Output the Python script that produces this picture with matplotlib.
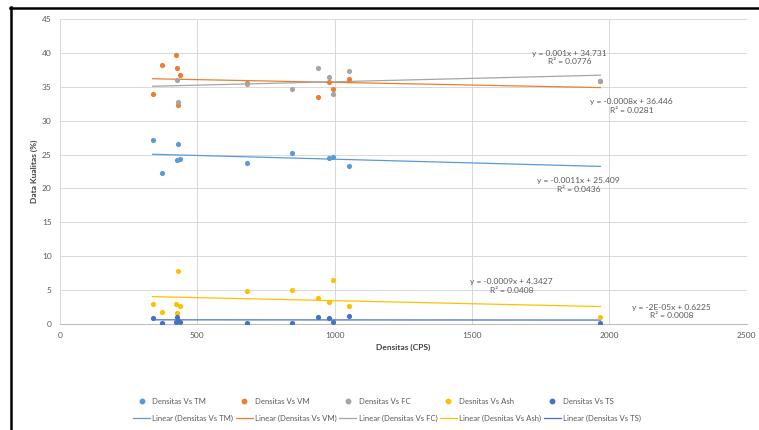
import matplotlib.pyplot as plt
from matplotlib.lines import Line2D
import numpy as np

plt.rcParams['font.family'] = ['Lato', 'DejaVu Sans']

# Densitas (CPS) tiap sampel
densitas = [337, 373, 422, 427, 430, 437, 679, 846, 938, 978, 995, 1052, 1967]

nan = np.nan
tm = [27.2, 22.2, nan, 24.2, 26.6, 24.4, 23.8, 25.25, nan, 24.5, 24.65, 23.3, nan]
vm = [33.9, 38.2, 39.75, 37.7, 32.35, 36.7, 35.6, nan, 33.5, 35.7, 34.7, 36.2, 35.8]
fc = [nan, nan, nan, 36.0, 32.8, nan, 35.45, 34.7, 37.7, 36.4, 33.9, 37.3, 35.9]
ash = [2.9, 1.8, 2.9, 1.65, 7.85, 2.65, 4.85, 5.0, 3.8, 3.2, 6.45, 2.65, 1.0]
ts = [0.95, 0.2, 0.3, 1.1, 0.5, 0.3, 0.2, 0.2, 1.0, 0.85, 0.35, 1.2, 0.2]

# koefisien trendline (dari label Excel)
slope = [-0.0011, -0.0008, 0.001, -0.0009, -2e-05]
intercept = [25.409, 36.446, 34.731, 4.3427, 0.6225]
r2 = ['0.0436', '0.0281', '0.0776', '0.0408', '0.0008']
eq = ['y = -0.0011x + 25.409', 'y = -0.0008x + 36.446', 'y = 0.001x + 34.731',
      'y = -0.0009x + 4.3427', 'y = -2E-05x + 0.6225']

nama = ['Densitas Vs TM', 'Densitas Vs VM', 'Densitas Vs FC', 'Desnitas Vs Ash', 'Densitas Vs TS']
warna = ['#5B9BD5', '#ED7D31', '#A5A5A5', '#FFC000', '#4472C4']
# posisi label persamaan (koordinat data)
pos_label = [(1887, 20.5), (2080, 32.1), (1855, 39.3), (1644, 5.55), (2225, 1.85)]

fig = plt.figure(figsize=(7.59, 4.30), dpi=100)
ax = fig.add_axes([0.079, 0.2465, 0.905, 0.7095])

seri = [tm, vm, fc, ash, ts]
x = np.array(densitas)
handles = []
for i, y in enumerate(seri):
    ax.scatter(x, y, s=14, color=warna[i], zorder=3, linewidths=0)
    xl = np.array([min(densitas), max(densitas)])
    ax.plot(xl, slope[i] * xl + intercept[i], color=warna[i], lw=0.9, zorder=2)
    handles.append(Line2D([], [], marker='o', ls='none', color=warna[i], markersize=3.2))
    handles.append(Line2D([], [], color=warna[i], lw=0.9))
    ax.text(pos_label[i][0], pos_label[i][1], eq[i] + '\nR² = ' + r2[i],
            ha='center', va='center', fontsize=6, color='#595959', linespacing=1.3)

ax.set_xlim(0, 2500)
ax.set_ylim(0, 45)
ax.set_xticks(np.arange(0, 2501, 500))
ax.set_yticks(np.arange(0, 46, 5))
ax.grid(True, color='#D9D9D9', lw=0.7)
ax.set_axisbelow(True)
for s in ['top', 'right', 'left']:
    ax.spines[s].set_visible(False)
ax.spines['bottom'].set_color('#BFBFBF')
ax.tick_params(length=0, labelsize=6, labelcolor='#595959', pad=6)
ax.set_xlabel('Densitas (CPS)', fontsize=6, fontweight='bold', color='#404040', labelpad=3)
ax.set_ylabel('Data Kualitas (%)', fontsize=6, fontweight='bold', color='#404040', labelpad=3)

labels = []
for n in nama:
    labels.append(n)
    labels.append('Linear (' + n + ')')
fig.legend(handles, labels, ncol=5, loc='center', bbox_to_anchor=(0.51, 0.047),
           frameon=False, fontsize=5.6, labelcolor='#595959', handlelength=2.2,
           handletextpad=0.3, columnspacing=0.3, labelspacing=1.3)

# bingkai hitam screenshot
fig.add_artist(Line2D([10 / 759, 1], [1 - 7.5 / 430] * 2, color='black', lw=1.8))
fig.add_artist(Line2D([11 / 759] * 2, [0, 1 - 7 / 430], color='black', lw=1.8))

fig.savefig('out.png', dpi=100)
